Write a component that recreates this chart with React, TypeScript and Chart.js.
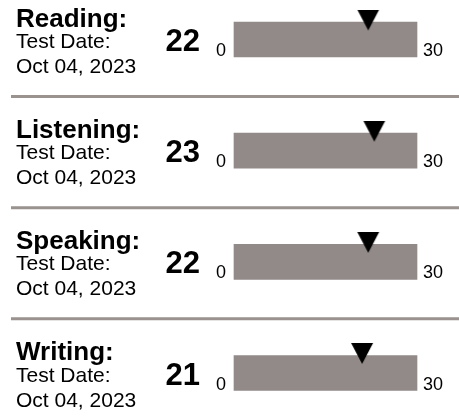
import React, { useEffect, useRef } from "react";
import { Chart, registerables } from "chart.js";

Chart.register(...registerables);

const sections = ["Reading:", "Listening:", "Speaking:", "Writing:"];
const scores = [22, 23, 22, 21];
const scaleMin = [0, 0, 0, 0];
const scaleMax = [30, 30, 30, 30];
const dateLabel = "Test Date:";
const testDates = ["Oct 04, 2023", "Oct 04, 2023", "Oct 04, 2023", "Oct 04, 2023"];

const FONT = "'Liberation Sans', Arial, Helvetica, sans-serif";

function makeMarker(): HTMLCanvasElement {
  const c = document.createElement("canvas");
  c.width = 26;
  c.height = 60;
  const ctx = c.getContext("2d")!;
  ctx.fillStyle = "#000000";
  ctx.beginPath();
  ctx.moveTo(2, 0);
  ctx.lineTo(24, 0);
  ctx.lineTo(13, 21);
  ctx.closePath();
  ctx.fill();
  return c;
}

const textPlugin = {
  id: "scoreText",
  afterDraw(chart: any) {
    const { ctx, scales } = chart;
    const y = scales.y;
    const x = scales.x;
    ctx.save();
    sections.forEach((name, i) => {
      const c = y.getPixelForValue(i);
      ctx.fillStyle = "#000";
      ctx.textBaseline = "alphabetic";
      ctx.textAlign = "left";
      ctx.font = `bold 26px ${FONT}`;
      ctx.fillText(name, 16, c - 13);
      ctx.font = `21px ${FONT}`;
      ctx.fillText(dateLabel, 16, c + 8.5);
      ctx.fillText(testDates[i], 16, c + 33.5);
      ctx.font = `bold 31px ${FONT}`;
      ctx.textAlign = "right";
      ctx.fillText(String(scores[i]), 200, c + 11.5);
      ctx.font = `18px ${FONT}`;
      ctx.textAlign = "right";
      ctx.fillText(String(scaleMin[i]), x.getPixelForValue(scaleMin[i]) - 8, c + 16.5);
      ctx.textAlign = "left";
      ctx.fillText(String(scaleMax[i]), x.getPixelForValue(scaleMax[i]) + 6, c + 16.5);
      if (i < sections.length - 1) {
        ctx.strokeStyle = "#99928f";
        ctx.lineWidth = 3;
        ctx.beginPath();
        ctx.moveTo(11, c + 57);
        ctx.lineTo(chart.width, c + 57);
        ctx.stroke();
      }
    });
    ctx.restore();
  },
};

export default function App() {
  const ref = useRef<HTMLCanvasElement>(null);
  useEffect(() => {
    if (!ref.current) return;
    const marker = makeMarker();
    const chart = new Chart(ref.current, {
      type: "bar",
      data: {
        labels: sections,
        datasets: [
          {
            type: "bar",
            indexAxis: "y",
            data: scaleMax,
            backgroundColor: "#918a88",
            borderWidth: 0,
            barThickness: 35,
            clip: false,
            order: 2,
          } as any,
          {
            type: "scatter",
            data: scores.map((s, i) => ({ x: s, y: sections[i] })),
            pointStyle: marker,
            pointRadius: 10,
            showLine: false,
            clip: false,
            order: 1,
          } as any,
        ],
      },
      options: {
        responsive: false,
        animation: false,
        events: [],
        layout: { padding: { left: 234, right: 42, top: 39.5, bottom: 44 } },
        plugins: { legend: { display: false }, tooltip: { enabled: false } },
        scales: {
          x: { type: "linear", min: 0, max: 30, offset: false, display: false },
          y: { type: "category", labels: sections, offset: false, display: false },
        },
      } as any,
      plugins: [textPlugin],
    });
    return () => chart.destroy();
  }, []);
  return (
    <div style={{ position: "absolute", left: 0, top: 0, width: 459, height: 417, background: "#fff" }}>
      <canvas ref={ref} width={459} height={417} />
    </div>
  );
}
